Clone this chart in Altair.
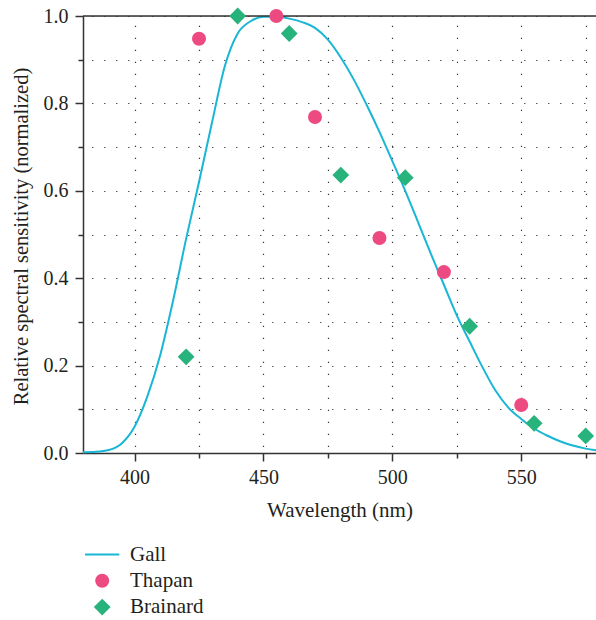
import altair as alt
import pandas as pd

# ---- data ----
gall_nm = [380, 385, 390, 395, 400, 405, 410, 415, 420, 425, 430, 435, 440, 445, 450,
           455, 460, 465, 470, 475, 480, 485, 490, 495, 500, 505, 510, 515, 520, 525,
           530, 535, 540, 545, 550, 555, 560, 565, 570, 575, 579]
gall_val = [0.002, 0.003, 0.007, 0.022, 0.06, 0.13, 0.225, 0.35, 0.49, 0.62, 0.755, 0.885,
            0.96, 0.988, 0.998, 0.998, 0.994, 0.986, 0.973, 0.946, 0.905, 0.855, 0.797,
            0.735, 0.668, 0.600, 0.528, 0.455, 0.385, 0.315, 0.255, 0.196, 0.143, 0.104,
            0.078, 0.056, 0.040, 0.027, 0.017, 0.010, 0.006]

thapan_nm = [425, 455, 470, 495, 520, 550]
thapan_val = [0.948, 1.0, 0.769, 0.492, 0.414, 0.11]

brainard_nm = [420, 440, 460, 480, 505, 530, 555, 575]
brainard_val = [0.22, 1.0, 0.96, 0.636, 0.63, 0.29, 0.068, 0.039]

series_names = ["Gall", "Thapan", "Brainard"]
series_colors = ["#19B6D5", "#EE4A82", "#27B37B"]

x_ticks = [400, 425, 450, 475, 500, 525, 550, 575]
y_ticks = [0.0, 0.1, 0.2, 0.3, 0.4, 0.5, 0.6, 0.7, 0.8, 0.9, 1.0]

# ---- styling ----
FONT = "Liberation Serif"
TEXT = "#231f20"
AXIS = "#333333"
LINE_PATH = "M-2.45,-0.14L2.45,-0.14L2.45,0.14L-2.45,0.14Z"
DIAMOND_PATH = "M-1.2,0L0,-1.2L1.2,0L0,1.2Z"

line_df = pd.DataFrame({"nm": gall_nm, "val": gall_val})
pts_df = pd.concat([
    pd.DataFrame({"nm": thapan_nm, "val": thapan_val, "series": "Thapan"}),
    pd.DataFrame({"nm": brainard_nm, "val": brainard_val, "series": "Brainard"}),
])

x_scale = alt.Scale(domain=[380, 579], nice=False, zero=False)
y_scale = alt.Scale(domain=[0, 1], nice=False, zero=False)
color_scale = alt.Scale(domain=series_names, range=series_colors)
shape_scale = alt.Scale(domain=series_names, range=[LINE_PATH, "circle", DIAMOND_PATH])

x_axis = alt.Axis(
    values=x_ticks, format="d",
    labelExpr="datum.value % 50 === 0 ? datum.label : ''",
    title="Wavelength (nm)",
    grid=True, gridDash=[1.2, 10.8], gridColor="#333", gridWidth=1.2, gridDashOffset=2.7,
    tickSize={"condition": {"test": "datum.value % 50 === 0", "value": 8}, "value": 5},
    tickColor=AXIS, tickWidth=1.5, domainColor=AXIS, domainWidth=1.5,
    labelPadding=6, labelFont=FONT, labelFontSize=20, labelColor=TEXT,
    titleFont=FONT, titleFontSize=21, titleFontWeight="normal", titleColor=TEXT,
    titleY=63, titleBaseline="alphabetic",
)
y_axis = alt.Axis(
    values=y_ticks, format=".1f",
    labelExpr="round(datum.value * 10) % 2 === 0 ? datum.label : ''",
    title="Relative spectral sensitivity (normalized)",
    grid=True, gridDash=[1.2, 10.8], gridColor="#333", gridWidth=1.2, gridDashOffset=3.3,
    tickSize={"condition": {"test": "round(datum.value * 10) % 2 === 0", "value": 8}, "value": 5},
    tickColor=AXIS, tickWidth=1.5, domainColor=AXIS, domainWidth=1.5,
    labelPadding=7, labelFont=FONT, labelFontSize=20, labelColor=TEXT,
    titleFont=FONT, titleFontSize=20.5, titleFontWeight="normal", titleColor=TEXT,
    titleX=-56, titleY=220, titleBaseline="alphabetic", titleAngle=-90,
)

legend = alt.Legend(
    title=None, orient="none", legendX=8.7, legendY=528,
    labelFont=FONT, labelFontSize=21, labelColor=TEXT, labelOffset=17.3,
    symbolSize=196, symbolStrokeWidth=0, rowPadding=4.3, padding=0,
)

line = alt.Chart(line_df).mark_line(strokeWidth=2, interpolate="monotone",
                                     color=series_colors[0]).encode(
    x=alt.X("nm:Q", scale=x_scale, axis=x_axis),
    y=alt.Y("val:Q", scale=y_scale, axis=y_axis),
)

points = alt.Chart(pts_df).mark_point(filled=True, size=196, opacity=1, strokeWidth=0).encode(
    x=alt.X("nm:Q", scale=x_scale),
    y=alt.Y("val:Q", scale=y_scale),
    color=alt.Color("series:N", scale=color_scale, legend=legend),
    shape=alt.Shape("series:N", scale=shape_scale, legend=legend),
)

top_rule = alt.Chart(pd.DataFrame({"v": [1.0]})).mark_rule(color=AXIS, strokeWidth=1.5).encode(
    y=alt.Y("v:Q", scale=y_scale),
)

chart = alt.layer(line, top_rule, points).properties(
    width=513, height=437,
    autosize=alt.AutoSizeParams(type="none"),
    padding={"left": 83, "top": 16, "right": 0, "bottom": 167},
).configure_view(stroke=None).configure(background="white")

chart.save("out.html", embed_options={"renderer": "svg", "actions": False})
